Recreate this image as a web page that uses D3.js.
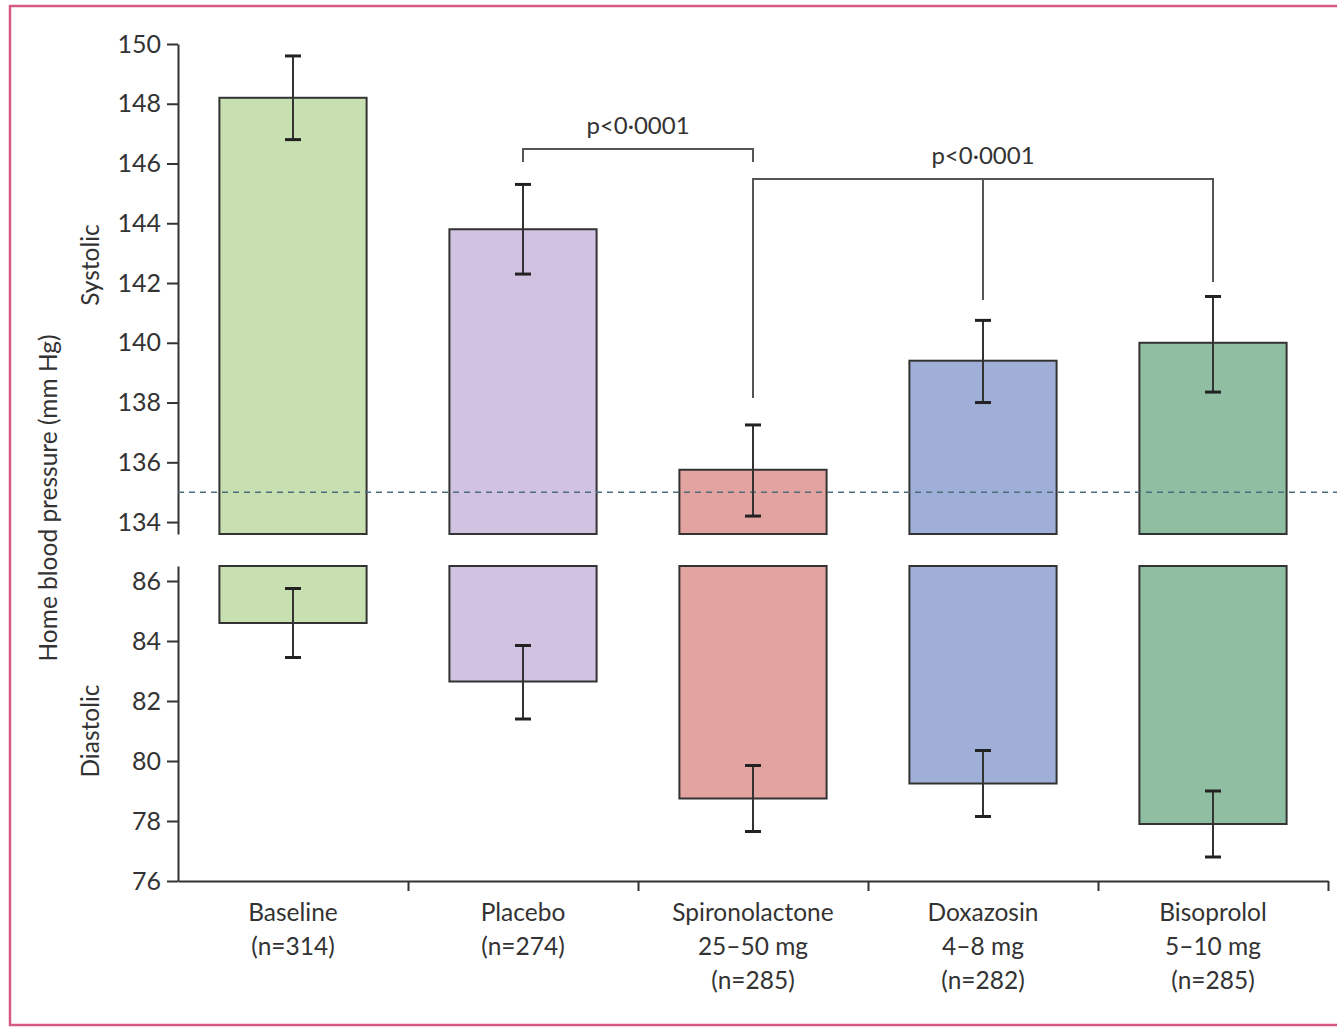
<!DOCTYPE html>
<html>
<head>
<meta charset="utf-8">
<script src="https://cdn.jsdelivr.net/npm/d3@7"></script>
<style>
  body { margin: 0; background: #fff; }
  text { font-family: Lato, "Open Sans", sans-serif; fill: #333; }
</style>
</head>
<body>
<script>
// chart values
var groups = ["Baseline", "Placebo", "Spironolactone", "Doxazosin", "Bisoprolol"];
var groupLines = [
  ["Baseline", "(n=314)"],
  ["Placebo", "(n=274)"],
  ["Spironolactone", "25\u201350 mg", "(n=285)"],
  ["Doxazosin", "4\u20138 mg", "(n=282)"],
  ["Bisoprolol", "5\u201310 mg", "(n=285)"]
];
var colors = ["#c8dfb1", "#d0c2e0", "#e3a3a0", "#9fafd7", "#8fbea3"];
var systolic = [148.2, 143.8, 135.75, 139.4, 140.0];
var sysLow = [146.8, 142.3, 134.2, 138.0, 138.35];
var sysHigh = [149.6, 145.3, 137.25, 140.75, 141.55];
var diastolic = [84.6, 82.65, 78.75, 79.25, 77.9];
var diaLow = [83.45, 81.4, 77.65, 78.15, 76.8];
var diaHigh = [85.75, 83.85, 79.85, 80.35, 79.0];
var sysTicks = [134, 136, 138, 140, 142, 144, 146, 148, 150];
var diaTicks = [76, 78, 80, 82, 84, 86];
var target = 135;

var W = 1337, H = 1028;
var svg = d3.select("body").append("svg").attr("width", W).attr("height", H);

// pink frame
svg.append("rect").attr("x", 10).attr("y", 6).attr("width", 1340).attr("height", 1019)
  .attr("fill", "none").attr("stroke", "#d65a80").attr("stroke-width", 2.5);

var left = 178, right = 1328;
var x = d3.scaleBand().domain(groups).range([left, right]).paddingInner(0.36).paddingOuter(0.18);
var ySys = d3.scaleLinear().domain([133.6, 150]).range([534, 44]);
var yDia = d3.scaleLinear().domain([76, 86.5]).range([881, 566]);

var sysAxis = svg.append("g").attr("transform", "translate(" + left + ",0)")
  .call(d3.axisLeft(ySys).tickValues(sysTicks).tickSize(11).tickSizeOuter(0).tickPadding(6));
var diaAxis = svg.append("g").attr("transform", "translate(" + left + ",0)")
  .call(d3.axisLeft(yDia).tickValues(diaTicks).tickSize(11).tickSizeOuter(0).tickPadding(6));
[sysAxis, diaAxis].forEach(function(a){
  a.selectAll("path, line").attr("stroke", "#333").attr("stroke-width", 2);
  a.selectAll("text").style("font-size", "25px").attr("fill", "#333");
});

// x axis line with group boundary ticks
var xb = d3.scaleLinear().domain([0, 5]).range([left, right]);
var xAxis = svg.append("g").attr("transform", "translate(0,881)")
  .call(d3.axisBottom(xb).tickValues([1, 2, 3, 4, 5]).tickSize(10).tickSizeOuter(0).tickFormat(""));
xAxis.selectAll("path, line").attr("stroke", "#333").attr("stroke-width", 2);

// category labels
var lab = svg.append("g").selectAll("text").data(groups).enter().append("text")
  .attr("x", function(d){ return x(d) + x.bandwidth() / 2; })
  .attr("y", 921)
  .attr("text-anchor", "middle")
  .style("font-size", "24.5px");
lab.selectAll("tspan").data(function(d, i){ return groupLines[i]; }).enter().append("tspan")
  .attr("x", function(){ var p = this.parentNode; return p.getAttribute("x"); })
  .attr("dy", function(d, i){ return i === 0 ? 0 : 34; })
  .text(function(d){ return d; });

// bars
var sysBars = svg.append("g").selectAll("rect").data(groups).enter().append("rect")
  .attr("x", function(d){ return x(d); })
  .attr("width", x.bandwidth())
  .attr("y", function(d, i){ return ySys(systolic[i]); })
  .attr("height", function(d, i){ return ySys(133.6) - ySys(systolic[i]); })
  .attr("fill", function(d, i){ return colors[i]; })
  .attr("stroke", "#333").attr("stroke-width", 2);

var diaBars = svg.append("g").selectAll("rect").data(groups).enter().append("rect")
  .attr("x", function(d){ return x(d); })
  .attr("width", x.bandwidth())
  .attr("y", yDia(86.5))
  .attr("height", function(d, i){ return yDia(diastolic[i]) - yDia(86.5); })
  .attr("fill", function(d, i){ return colors[i]; })
  .attr("stroke", "#333").attr("stroke-width", 2);

// dashed target line
svg.append("line").attr("x1", left).attr("x2", W)
  .attr("y1", ySys(target)).attr("y2", ySys(target))
  .attr("stroke", "#4e6d7c").attr("stroke-width", 1.5).attr("stroke-dasharray", "6,5");

// error bars
function errorBars(lo, hi, y){
  var g = svg.append("g");
  groups.forEach(function(d, i){
    var cx = x(d) + x.bandwidth() / 2;
    g.append("line").attr("x1", cx).attr("x2", cx).attr("y1", y(lo[i])).attr("y2", y(hi[i]))
      .attr("stroke", "#333").attr("stroke-width", 2);
    [lo[i], hi[i]].forEach(function(v){
      g.append("line").attr("x1", cx - 8).attr("x2", cx + 8).attr("y1", y(v)).attr("y2", y(v))
        .attr("stroke", "#222").attr("stroke-width", 3);
    });
  });
}
errorBars(sysLow, sysHigh, ySys);
errorBars(diaLow, diaHigh, yDia);

// significance brackets
function cx(name){ return x(name) + x.bandwidth() / 2; }
var br = svg.append("g").attr("fill", "none").attr("stroke", "#555").attr("stroke-width", 2);
br.append("path").attr("d", "M" + cx("Placebo") + ",162V149H" + cx("Spironolactone") + "V162");
br.append("path").attr("d", "M" + cx("Spironolactone") + ",398V179H" + cx("Bisoprolol") + "V282");
br.append("path").attr("d", "M" + cx("Doxazosin") + ",179V300");

svg.append("text").attr("x", (cx("Placebo") + cx("Spironolactone")) / 2).attr("y", 134)
  .attr("text-anchor", "middle").style("font-size", "24px").text("p<0\u00b70001");
svg.append("text").attr("x", cx("Doxazosin")).attr("y", 164)
  .attr("text-anchor", "middle").style("font-size", "24px").text("p<0\u00b70001");

// axis titles
svg.append("text").attr("transform", "translate(57,498) rotate(-90)")
  .attr("text-anchor", "middle").style("font-size", "24.5px").text("Home blood pressure (mm Hg)");
svg.append("text").attr("transform", "translate(99,265) rotate(-90)")
  .attr("text-anchor", "middle").style("font-size", "24.5px").text("Systolic");
svg.append("text").attr("transform", "translate(99,731) rotate(-90)")
  .attr("text-anchor", "middle").style("font-size", "24.5px").text("Diastolic");
</script>
</body>
</html>
